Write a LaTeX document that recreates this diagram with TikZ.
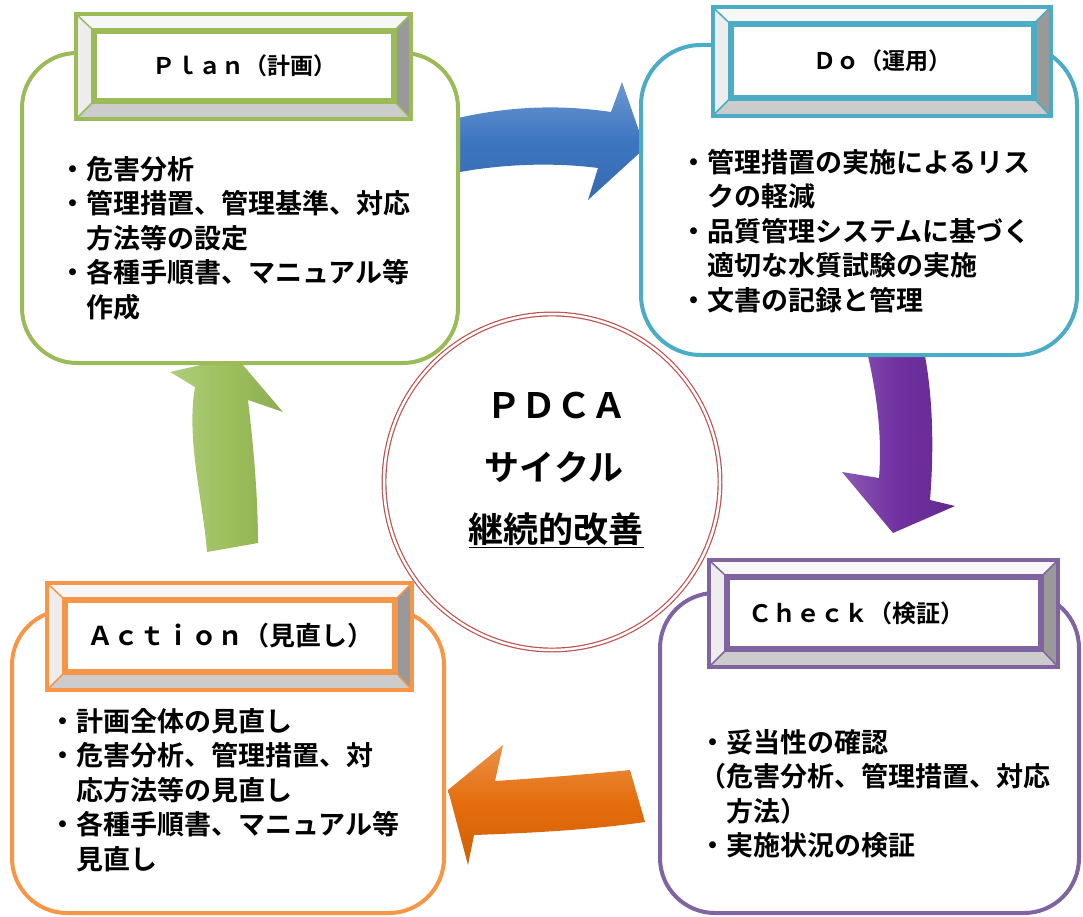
\documentclass[tikz,border=0pt]{standalone}
\usepackage{fontspec}
\newfontfamily\jp{Noto Sans CJK JP}[BoldFont={* Bold}]
\definecolor{planc}{HTML}{9BBB59}
\definecolor{doc}{HTML}{4BACC6}
\definecolor{checkc}{HTML}{8064A2}
\definecolor{actc}{HTML}{F79646}
\definecolor{circc}{HTML}{C0504D}
\definecolor{arrblue}{HTML}{3D76C1}
\definecolor{arrpurple}{HTML}{7030A0}
\definecolor{arrorange}{HTML}{E46C0A}
\definecolor{arrgreen}{HTML}{9DC05C}
\newcommand{\bevel}[2]{%
  \path (#1.north west) coordinate (iNW) (#1.north east) coordinate (iNE)
        (#1.south east) coordinate (iSE) (#1.south west) coordinate (iSW);
  \path ([shift={(-17,-16)}]iNW) coordinate (oNW) ([shift={(16,-16)}]iNE) coordinate (oNE)
        ([shift={(16,17)}]iSE) coordinate (oSE) ([shift={(-17,17)}]iSW) coordinate (oSW);
  \fill[black!3] (oNW) -- (oNE) -- (iNE) -- (iNW) -- cycle;
  \fill[black!7] (oNW) -- (iNW) -- (iSW) -- (oSW) -- cycle;
  \fill[black!40] (oNE) -- (oSE) -- (iSE) -- (iNE) -- cycle;
  \fill[black!20] (oSW) -- (oSE) -- (iSE) -- (iSW) -- cycle;
  \draw[#2, line width=1.5pt] (oNW) -- (iNW) (oNE) -- (iNE) (oSE) -- (iSE) (oSW) -- (iSW);
  \draw[#2, line width=4pt] (oNW) rectangle (oSE) (iNW) rectangle (iSE);
}

\begin{document}
\begin{tikzpicture}[x=1pt, y=-1pt,
        roundbox/.style={line width=4pt, rounded corners=55pt, fill=white},
        titlebox/.style={draw=#1, line width=4pt, fill=white, inner sep=0pt},
        titlefont/.style={font=\jp\bfseries\fontsize{#1}{#1}\selectfont},
        bodytext/.style={anchor=north west, inner sep=0pt, align=left,
          font=\jp\bfseries\fontsize{27}{34.5}\selectfont},
        bigtext/.style={inner sep=0pt, font=\jp\bfseries\fontsize{35}{40}\selectfont},
        hshade/.style={top color=#1!75!white, bottom color=#1!90!black, middle color=#1},
        vshade/.style={left color=#1!80!white, right color=#1!90!black, middle color=#1}
      ]
      \useasboundingbox (0,0) rectangle (1083,917);

      \path[hshade=arrblue] (458,118) .. controls (520,104) and (570,106) .. (611,112)
        -- (622,82) -- (645,148) -- (588,200) -- (598,168)
        .. controls (560,163) and (510,163) .. (460,172) -- cycle;
      \path[vshade=arrpurple] (868,356) .. controls (878,400) and (882,440) .. (879,478)
        -- (842,472) -- (893,533) -- (955,506) -- (930,500)
        .. controls (934,450) and (933,400) .. (925,356) -- cycle;
      \path[hshade=arrorange] (630,770) .. controls (580,775) and (540,778) .. (495,781)
        -- (503,745) -- (448,790) -- (468,865) -- (474,835)
        .. controls (530,833) and (590,830) .. (645,822) -- cycle;
      \path[vshade=arrgreen] (170,372) -- (236,357) -- (283,412) -- (248,400)
        .. controls (254,450) and (258,500) .. (258,543) -- (207,552)
        .. controls (203,500) and (186,440) .. (195,387) -- cycle;

      \draw[roundbox, draw=planc] (22,53) rectangle (458,363);
      \draw[roundbox, draw=doc, rounded corners=60pt] (641,45) rectangle (1077,355);
      \draw[roundbox, draw=checkc] (660,593) rectangle (1079,913);
      \draw[roundbox, draw=actc] (12,610) rectangle (444,913);

      \draw[circc, double=white, double distance=2.5pt, line width=1.2pt] (552,482) circle (168);

      \node[titlebox=planc, minimum width=298pt, minimum height=68pt, titlefont=23] (plantitle) at (244,66) {Ｐｌａｎ（計画）};
      \node[titlebox=doc, minimum width=301pt, minimum height=72pt, titlefont=23] (dotitle) at (882,61) {Ｄｏ（運用）};
      \node[titlebox=checkc, minimum width=312pt, minimum height=70pt, titlefont=24] (checktitle) at (884,613) {Ｃｈｅｃｋ（検証）\hspace*{56pt}};
      \node[titlebox=actc, minimum width=328pt, minimum height=70pt, titlefont=26] (acttitle) at (230,636) {Ａｃｔｉｏｎ（見直し）};
      \bevel{plantitle}{planc}
      \bevel{dotitle}{doc}
      \bevel{checktitle}{checkc}
      \bevel{acttitle}{actc}

      \node[bodytext] (plantext) at (59,156) {・危害分析\\・管理措置、管理基準、対応\\\hspace*{1em}方法等の設定\\・各種手順書、マニュアル等\\\hspace*{1em}作成};
      \node[bodytext] (dotext) at (680,149) {・管理措置の実施によるリス\\\hspace*{1em}クの軽減\\・品質管理システムに基づく\\\hspace*{1em}適切な水質試験の実施\\・文書の記録と管理};
      \node[bodytext] (checktext) at (699,729) {・妥当性の確認\\（危害分析、管理措置、対応\\\hspace*{1em}方法）\\・実施状況の検証};
      \node[bodytext] (acttext) at (49,708) {・計画全体の見直し\\・危害分析、管理措置、対\\\hspace*{1em}応方法等の見直し\\・各種手順書、マニュアル等\\\hspace*{1em}見直し};

      \node[bigtext] (pdca) at (556,405) {ＰＤＣＡ};
      \node[bigtext] (cycle) at (554,467) {サイクル};
      \node[bigtext] (kaizen) at (556,530) {\underline{継続的改善}};
    \end{tikzpicture}
\end{document}
